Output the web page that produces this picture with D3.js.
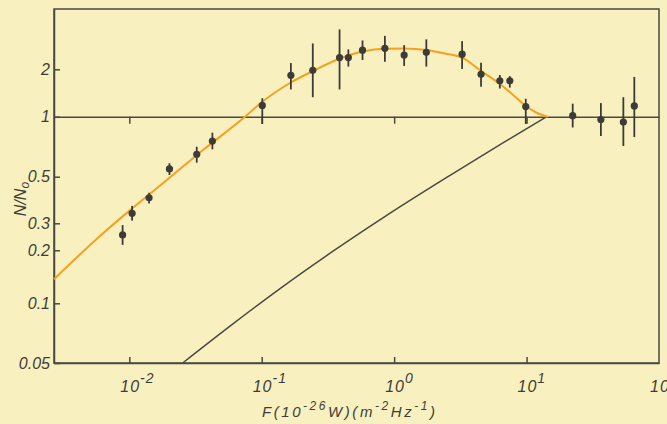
<!DOCTYPE html>
<html>
  <head>
    <meta charset="utf-8" />
    <title>N/N0 vs F</title>
    <script src="https://cdn.jsdelivr.net/npm/d3@7"></script>
    <style>
      body { margin: 0; background: #f8f1bf; }
      svg { display: block; }
    </style>
  </head>
  <body>
    <svg width="667" height="424" id="mainsvg"></svg>
    <script>
      // measured counts, N/N0 with error bars
      const flux = [0.0089, 0.0105, 0.0141, 0.0201, 0.0323, 0.0424, 0.101, 0.166, 0.243, 0.387, 0.451, 0.577,
                    0.851, 1.19, 1.75, 3.26, 4.53, 6.28, 7.47, 9.86, 22.3, 36.4, 53.8, 65.1];
      const ratio = [0.252, 0.335, 0.397, 0.547, 0.648, 0.755, 1.18, 1.83, 1.97, 2.37, 2.37, 2.64,
                     2.71, 2.46, 2.56, 2.49, 1.86, 1.69, 1.69, 1.16, 1.015, 0.968, 0.94, 1.17];
      const ratioHi = [0.292, 0.363, 0.419, 0.584, 0.707, 0.831, 1.31, 2.19, 2.91, 3.57, 2.67, 3.04,
                       3.25, 2.84, 3.09, 3.01, 2.2, 1.84, 1.81, 1.3, 1.21, 1.22, 1.33, 1.79];
      const ratioLo = [0.217, 0.309, 0.373, 0.51, 0.588, 0.686, 0.919, 1.49, 1.33, 1.49, 2.08, 2.29,
                       2.23, 2.1, 2.08, 2.01, 1.55, 1.51, 1.53, 0.919, 0.883, 0.8, 0.713, 0.791];

      // fitted curve (orange)
      const fitFlux = [0.0027, 0.00601, 0.00978, 0.0192, 0.036, 0.0748, 0.1005, 0.1636, 0.2441, 0.39, 0.577,
                       0.854, 1.188, 1.757, 2.466, 3.256, 4.532, 6.3, 7.907, 9.87, 12.0, 14.5];
      const fitRatio = [0.137, 0.248, 0.34, 0.482, 0.68, 1.0, 1.24, 1.637, 1.951, 2.34, 2.59,
                        2.7, 2.71, 2.65, 2.51, 2.37, 1.951, 1.613, 1.374, 1.169, 1.056, 1.0];

      // second curve (black)
      const modelFlux = [0.0253, 0.0576, 0.1375, 0.3455, 0.964, 2.644, 6.306, 14.2];
      const modelRatio = [0.05, 0.0767, 0.1212, 0.1976, 0.34, 0.508, 0.724, 1.0];

      // axes
      const xDecades = [-2, -1, 0, 1, 2];
      const yTicks = [0.05, 0.1, 0.2, 0.3, 0.5, 1, 2];
      const yTickLabels = ["0.05", "0.1", "0.2", "0.3", "0.5", "1", "2"];

      const ink = "#4a4843";
      const textInk = "#3e3d3a";
      const font = "'Liberation Sans', Arial, sans-serif";

      const svg = d3.select("#mainsvg");
      const width = +svg.attr("width");
      const height = +svg.attr("height");
      const margin = { top: 9, right: 8, bottom: 61, left: 54 };
      const innerWidth = width - margin.left - margin.right;
      const innerHeight = height - margin.top - margin.bottom;

      svg.append("rect").attr("width", width).attr("height", height).attr("fill", "#f8f1bf");

      const g = svg.append("g").attr("transform", `translate(${margin.left}, ${margin.top})`);

      const xScale = d3.scaleLog().domain([0.0027, 100]).range([0, innerWidth]);
      // the printed y axis is hand drawn and not evenly spaced, so the log scale is piecewise
      const yScale = d3.scaleLog()
        .domain([0.05, 0.1, 0.2, 0.3, 0.5, 1, 2, 4.8])
        .range([innerHeight, 294.3, 241.3, 214.3, 167.7, 107.7, 60.3, 0]);

      // frame
      g.append("rect")
        .attr("width", innerWidth).attr("height", innerHeight)
        .attr("fill", "none").attr("stroke", ink).attr("stroke-width", 1.5);

      const styleAxis = (sel) => {
        sel.selectAll("path, line").attr("stroke", ink).attr("stroke-width", 1.5);
        sel.selectAll("text")
          .attr("font-family", font).attr("font-style", "italic")
          .attr("font-size", 16).attr("fill", textInk);
      };

      const decadeTicks = xDecades.slice(0, 4).map((k) => Math.pow(10, k));

      g.append("g")
        .attr("transform", `translate(0, ${innerHeight})`)
        .call(d3.axisBottom(xScale).tickValues(decadeTicks).tickSizeInner(-6).tickSizeOuter(0).tickFormat(""))
        .call(styleAxis);

      // the N/N0 = 1 line with its own ticks
      g.append("g")
        .attr("transform", `translate(0, ${yScale(1)})`)
        .call(d3.axisBottom(xScale).tickValues(decadeTicks).tickSizeInner(7).tickSizeOuter(0).tickFormat(""))
        .call(styleAxis);

      g.append("g")
        .call(d3.axisLeft(yScale).tickValues(yTicks).tickSizeInner(-6).tickSizeOuter(0).tickPadding(4)
          .tickFormat((d, i) => yTickLabels[i]))
        .call(styleAxis);

      // x tick labels 10^k
      xDecades.forEach((k) => {
        const t = g.append("text")
          .attr("x", xScale(Math.pow(10, k)) - 9)
          .attr("y", innerHeight + 29)
          .attr("font-family", font).attr("font-style", "italic")
          .attr("font-size", 16).attr("fill", textInk)
          .attr("letter-spacing", 1);
        t.append("tspan").text("10");
        t.append("tspan").attr("dy", -9).attr("font-size", 14).text(k < 0 ? "-" + (-k) : k);
      });

      // curves
      const line = d3.line()
        .x((d) => xScale(d[0]))
        .y((d) => yScale(d[1]))
        .curve(d3.curveMonotoneX);

      g.append("path")
        .attr("d", line(modelFlux.map((f, i) => [f, modelRatio[i]])))
        .attr("fill", "none").attr("stroke", ink).attr("stroke-width", 1.5);

      g.append("path")
        .attr("d", line(fitFlux.map((f, i) => [f, fitRatio[i]])))
        .attr("fill", "none").attr("stroke", "#f5a01e").attr("stroke-width", 2);

      // data points
      const points = flux.map((f, i) => ({ f, n: ratio[i], lo: ratioLo[i], hi: ratioHi[i] }));

      g.selectAll(".err").data(points).join("line")
        .attr("class", "err")
        .attr("x1", (d) => xScale(d.f)).attr("x2", (d) => xScale(d.f))
        .attr("y1", (d) => yScale(d.lo)).attr("y2", (d) => yScale(d.hi))
        .attr("stroke", "#3c3b38").attr("stroke-width", 1.8);

      g.selectAll(".dot").data(points).join("circle")
        .attr("class", "dot")
        .attr("cx", (d) => xScale(d.f)).attr("cy", (d) => yScale(d.n))
        .attr("r", 3.6).attr("fill", "#3c3b38");

      // axis titles
      const xt = svg.append("text")
        .attr("x", 262).attr("y", 417)
        .attr("font-family", font).attr("font-style", "italic")
        .attr("font-size", 15).attr("fill", textInk)
        .attr("textLength", 173).attr("lengthAdjust", "spacing");
      xt.append("tspan").text("F(10");
      xt.append("tspan").attr("dy", -7).attr("font-size", 12).text("-26");
      xt.append("tspan").attr("dy", 7).text("W)(m");
      xt.append("tspan").attr("dy", -7).attr("font-size", 12).text("-2");
      xt.append("tspan").attr("dy", 7).text("Hz");
      xt.append("tspan").attr("dy", -7).attr("font-size", 12).text("-1");
      xt.append("tspan").attr("dy", 7).text(")");

      const yt = svg.append("text")
        .attr("transform", "translate(26, 199) rotate(-90)")
        .attr("text-anchor", "middle")
        .attr("font-family", font).attr("font-style", "italic")
        .attr("font-size", 16).attr("fill", textInk);
      yt.append("tspan").text("N/N");
      yt.append("tspan").attr("dy", 3).attr("font-size", 12).text("o");
    </script>
  </body>
</html>
